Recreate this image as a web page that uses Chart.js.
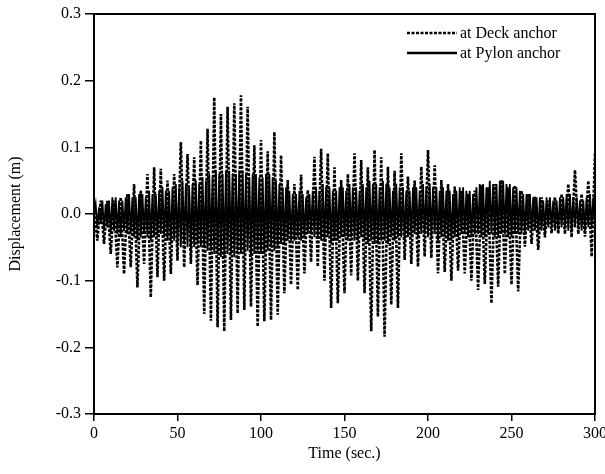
<!DOCTYPE html>
<html>
<head>
<meta charset="utf-8">
<script src="https://cdn.jsdelivr.net/npm/chart.js@4/dist/chart.umd.min.js"></script>
<style>
body { margin: 0; background: #fff; }
</style>
</head>
<body>
<canvas id="dispChart" width="605" height="474"></canvas>
<script>
var deckDisp = [
	0.01,-0.04, 0.02,-0.045, 0.02,-0.06, 0.02,-0.08, 0.025,-0.09, 0.03,-0.08,
	0.045,-0.11, 0.035,-0.075, 0.06,-0.125, 0.07,-0.095, 0.068,-0.1, 0.05,-0.09,
	0.06,-0.07, 0.108,-0.08, 0.09,-0.075, 0.085,-0.107, 0.11,-0.15, 0.128,-0.16,
	0.175,-0.17, 0.15,-0.176, 0.161,-0.159, 0.166,-0.149, 0.178,-0.144, 0.161,-0.139,
	0.103,-0.169, 0.111,-0.161, 0.094,-0.159, 0.123,-0.151, 0.088,-0.119, 0.051,-0.106,
	0.045,-0.114, 0.059,-0.089, 0.036,-0.072, 0.086,-0.079, 0.098,-0.1, 0.091,-0.141,
	0.07,-0.134, 0.051,-0.119, 0.06,-0.092, 0.091,-0.1, 0.081,-0.119, 0.07,-0.176,
	0.096,-0.154, 0.085,-0.184, 0.071,-0.136, 0.065,-0.141, 0.091,-0.069, 0.056,-0.075,
	0.05,-0.079, 0.071,-0.064, 0.096,-0.066, 0.073,-0.089, 0.051,-0.087, 0.045,-0.1,
	0.041,-0.085, 0.035,-0.089, 0.03,-0.1, 0.035,-0.114, 0.043,-0.105, 0.04,-0.134,
	0.045,-0.109, 0.051,-0.09, 0.04,-0.106, 0.043,-0.116, 0.035,-0.049, 0.03,-0.045,
	0.026,-0.054, 0.025,-0.035, 0.02,-0.029, 0.025,-0.03, 0.03,-0.03, 0.045,-0.035,
	0.066,-0.03, 0.03,-0.034, 0.05,-0.064, 0.091
];
// pylon anchor, sampled every 1 s from t = 0
var pylonDisp = [
	0.0,
	0.015,-0.02,0.01,-0.015, 0.02,-0.025,0.015,-0.02, 0.02,-0.03,0.025,-0.025, 0.025,-0.03,0.02,-0.035,
	0.02,-0.025,0.025,-0.03, 0.03,-0.03,0.025,-0.035, 0.025,-0.04,0.03,-0.035, 0.03,-0.03,0.025,-0.035,
	0.035,-0.04,0.03,-0.035, 0.03,-0.035,0.035,-0.03, 0.04,-0.035,0.035,-0.04, 0.035,-0.045,0.04,-0.04,
	0.045,-0.045,0.04,-0.05, 0.05,-0.045,0.045,-0.05, 0.04,-0.055,0.045,-0.05, 0.05,-0.045,0.045,-0.05,
	0.055,-0.05,0.05,-0.055, 0.06,-0.055,0.055,-0.06, 0.065,-0.06,0.06,-0.065, 0.06,-0.065,0.065,-0.06,
	0.065,-0.06,0.06,-0.065, 0.06,-0.055,0.065,-0.06, 0.065,-0.06,0.06,-0.055, 0.055,-0.065,0.06,-0.06,
	0.06,-0.055,0.055,-0.06, 0.055,-0.06,0.06,-0.055, 0.06,-0.05,0.055,-0.055, 0.05,-0.05,0.045,-0.045,
	0.04,-0.045,0.04,-0.04, 0.035,-0.04,0.03,-0.04, 0.03,-0.035,0.035,-0.04, 0.03,-0.035,0.025,-0.03,
	0.03,-0.03,0.035,-0.035, 0.04,-0.035,0.035,-0.04, 0.045,-0.04,0.04,-0.035, 0.04,-0.045,0.035,-0.04,
	0.035,-0.04,0.04,-0.035, 0.04,-0.035,0.035,-0.04, 0.045,-0.035,0.04,-0.04, 0.04,-0.04,0.035,-0.035,
	0.045,-0.04,0.04,-0.045, 0.05,-0.04,0.045,-0.045, 0.045,-0.045,0.04,-0.04, 0.05,-0.04,0.045,-0.045,
	0.04,-0.035,0.035,-0.04, 0.045,-0.035,0.04,-0.035, 0.04,-0.04,0.035,-0.035, 0.035,-0.035,0.04,-0.03,
	0.04,-0.035,0.035,-0.03, 0.045,-0.03,0.04,-0.035, 0.045,-0.035,0.04,-0.03, 0.04,-0.04,0.035,-0.035,
	0.04,-0.035,0.035,-0.04, 0.035,-0.04,0.03,-0.035, 0.035,-0.035,0.04,-0.03, 0.04,-0.03,0.035,-0.035,
	0.035,-0.035,0.03,-0.03, 0.04,-0.03,0.045,-0.035, 0.045,-0.035,0.04,-0.03, 0.05,-0.03,0.045,-0.035,
	0.045,-0.035,0.05,-0.03, 0.05,-0.03,0.045,-0.035, 0.045,-0.035,0.04,-0.03, 0.04,-0.03,0.035,-0.03,
	0.03,-0.03,0.03,-0.025, 0.03,-0.025,0.025,-0.025, 0.025,-0.03,0.025,-0.025, 0.02,-0.025,0.025,-0.02,
	0.025,-0.02,0.02,-0.025, 0.02,-0.025,0.025,-0.02, 0.025,-0.02,0.03,-0.025, 0.03,-0.025,0.025,-0.02,
	0.025,-0.02,0.02,-0.025, 0.02,-0.025,0.025,-0.02, 0.03,-0.02,0.025,-0.02
];
var xTicks = [0, 50, 100, 150, 200, 250, 300];
var yTicks = [-0.3, -0.2, -0.1, 0.0, 0.1, 0.2, 0.3];
var seriesNames = ['at Deck anchor', 'at Pylon anchor'];

var deckPts = deckDisp.map(function(v, i){ return {x: i * 2, y: v}; });
var pylonPts = pylonDisp.map(function(v, i){ return {x: i, y: v}; });

var serif = '"Liberation Serif", "Times New Roman", serif';
Chart.defaults.font.family = serif;
Chart.defaults.font.size = 16;
Chart.defaults.color = '#000';

// frame round the plot area + legend in the top right corner
var frameAndLegend = {
	id: 'frameAndLegend',
	afterDraw: function(chart){
		var ctx = chart.ctx, a = chart.chartArea;
		ctx.save();
		ctx.strokeStyle = '#000';
		ctx.lineWidth = 2;
		ctx.strokeRect(a.left, a.top, a.right - a.left, a.bottom - a.top);

		var x0 = a.right - 188, y0 = a.top + 19;
		chart.data.datasets.forEach(function(ds, i){
			var y = y0 + i * 20;
			ctx.lineWidth = 2.5;
			ctx.setLineDash(ds.borderDash || []);
			ctx.beginPath();
			ctx.moveTo(x0, y);
			ctx.lineTo(x0 + 50, y);
			ctx.stroke();
			ctx.setLineDash([]);
			ctx.fillStyle = '#000';
			ctx.font = '16px ' + serif;
			ctx.textBaseline = 'middle';
			ctx.fillText(ds.label, x0 + 53, y + 1);
		});
		ctx.restore();
	}
};

var plot = new Chart(document.getElementById('dispChart'), {
	type: 'line',
	data: {
		datasets: [{
			label: seriesNames[0],
			data: deckPts,
			borderColor: '#000',
			borderWidth: 2.6,
			borderDash: [3, 1.5],
			pointRadius: 0,
			tension: 0,
			fill: false
		}, {
			label: seriesNames[1],
			data: pylonPts,
			borderColor: '#000',
			borderWidth: 1.8,
			pointRadius: 0,
			tension: 0,
			fill: false
		}]
	},
	options: {
		responsive: false,
		animation: false,
		layout: { padding: { top: 14, right: 10, left: 0, bottom: 0 } },
		plugins: {
			legend: { display: false },
			tooltip: { enabled: false }
		},
		scales: {
			x: {
				type: 'linear',
				min: 0,
				max: 300,
				afterBuildTicks: function(s){ s.ticks = xTicks.map(function(v){ return {value: v}; }); },
				afterFit: function(s){ s.height = 60; s.paddingLeft = 0; s.paddingRight = 0; },
				border: { color: '#000', width: 2 },
				grid: { drawOnChartArea: false, drawTicks: true, tickLength: 7, color: '#000', lineWidth: 1.5 },
				ticks: { padding: 3, maxRotation: 0, autoSkip: false },
				title: { display: true, text: 'Time (sec.)', padding: { top: 11, bottom: 11 } }
			},
			y: {
				min: -0.3,
				max: 0.3,
				afterBuildTicks: function(s){ s.ticks = yTicks.map(function(v){ return {value: v}; }); },
				afterFit: function(s){ s.width = 94; },
				border: { color: '#000', width: 2 },
				grid: { drawOnChartArea: false, drawTicks: true, tickLength: 9, color: '#000', lineWidth: 1.5 },
				ticks: {
					padding: 4,
					callback: function(v){ return v.toFixed(1); }
				},
				title: { display: true, text: 'Displacement (m)', padding: { top: 6, bottom: 6 } }
			}
		}
	},
	plugins: [frameAndLegend]
});
</script>
</body>
</html>
